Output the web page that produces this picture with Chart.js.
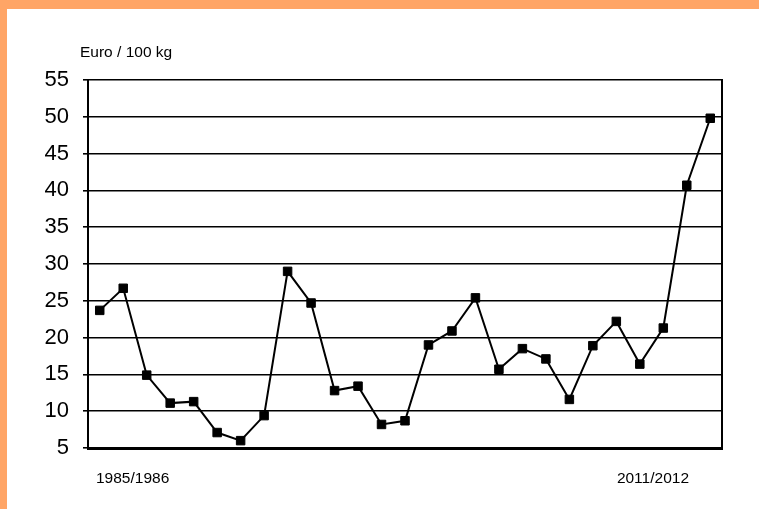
<!DOCTYPE html>
<html>
<head>
<meta charset="utf-8">
<title>Euro / 100 kg</title>
<script src="https://cdn.jsdelivr.net/npm/chart.js@4/dist/chart.umd.min.js"></script>
<style>
  html, body { margin: 0; padding: 0; background: #ffa566; }
  body { width: 759px; height: 509px; position: relative; overflow: hidden; }
  #wrap { position: absolute; left: 7px; top: 9px; width: 752px; height: 500px; background: #fff; }
</style>
</head>
<body>
<div id="wrap"><canvas id="chart"></canvas></div>
<script>
// seasons 1985/1986 .. 2011/2012
const seasons = [
  '1985/1986', '1986/1987', '1987/1988', '1988/1989', '1989/1990', '1990/1991',
  '1991/1992', '1992/1993', '1993/1994', '1994/1995', '1995/1996', '1996/1997',
  '1997/1998', '1998/1999', '1999/2000', '2000/2001', '2001/2002', '2002/2003',
  '2003/2004', '2004/2005', '2005/2006', '2006/2007', '2007/2008', '2008/2009',
  '2009/2010', '2010/2011', '2011/2012'
];
const prices = [
  23.7, 26.7, 14.9, 11.1, 11.3, 7.1, 6.0, 9.4, 29.0, 24.7, 12.8, 13.4,
  8.2, 8.7, 19.0, 20.9, 25.4, 15.7, 18.5, 17.1, 11.6, 18.9, 22.2, 16.4,
  21.3, 40.7, 49.8
];
const yTicks = [5, 10, 15, 20, 25, 30, 35, 40, 45, 50, 55];
const unitLabel = 'Euro / 100 kg';
const endLabels = [seasons[0], seasons[seasons.length - 1]];

const FONT = '"Liberation Sans", Arial, sans-serif';

// unit caption top-left and the two period labels under the axis
const textPlugin = {
  id: 'texts',
  afterDraw(chart) {
    const { ctx, chartArea } = chart;
    ctx.save();
    ctx.fillStyle = '#000';
    ctx.font = '15.5px ' + FONT;
    ctx.textBaseline = 'middle';
    ctx.textAlign = 'left';
    ctx.fillText(unitLabel, chartArea.left - 8, chartArea.top - 27);
    const y = chartArea.bottom + 31;
    ctx.textAlign = 'left';
    ctx.fillText(endLabels[0], chartArea.left + 8, y);
    ctx.textAlign = 'right';
    ctx.fillText(endLabels[1], chartArea.right - 33, y);
    ctx.restore();
  }
};

new Chart(document.getElementById('chart'), {
  type: 'line',
  data: {
    labels: seasons,
    datasets: [{
      data: prices,
      borderColor: '#000',
      borderWidth: 2,
      backgroundColor: '#000',
      pointStyle: 'rect',
      pointRadius: 6,
      pointBorderWidth: 1,
      pointBackgroundColor: '#000',
      pointBorderColor: '#000',
      tension: 0,
      fill: false,
    }]
  },
  options: {
    responsive: true,
    maintainAspectRatio: false,
    animation: false,
    layout: { padding: { top: 71, right: 37, left: 0, bottom: 0 } },
    plugins: { legend: { display: false }, tooltip: { enabled: false }, title: { display: false } },
    scales: {
      x: {
        type: 'category',
        offset: true,
        grid: { display: false, drawTicks: false },
        border: { display: true, color: '#000', width: 3 },
        ticks: { display: false },
        afterFit: s => { s.height = 61; },
      },
      y: {
        min: 5,
        max: 55,
        afterBuildTicks: s => { s.ticks = yTicks.map(v => ({ value: v })); },
        ticks: { color: '#000', font: { family: FONT, size: 22 }, padding: 14 },
        grid: { color: '#000', lineWidth: 1.6, tickLength: 5 },
        border: { display: true, color: '#000', width: 2 },
        afterFit: s => { s.width = 81; },
      },
      y2: {
        position: 'right',
        min: 5,
        max: 55,
        ticks: { display: false },
        grid: { drawOnChartArea: false, drawTicks: false },
        border: { display: true, color: '#000', width: 2 },
        afterFit: s => { s.width = 0; },
      }
    }
  },
  plugins: [textPlugin]
});
</script>
</body>
</html>
